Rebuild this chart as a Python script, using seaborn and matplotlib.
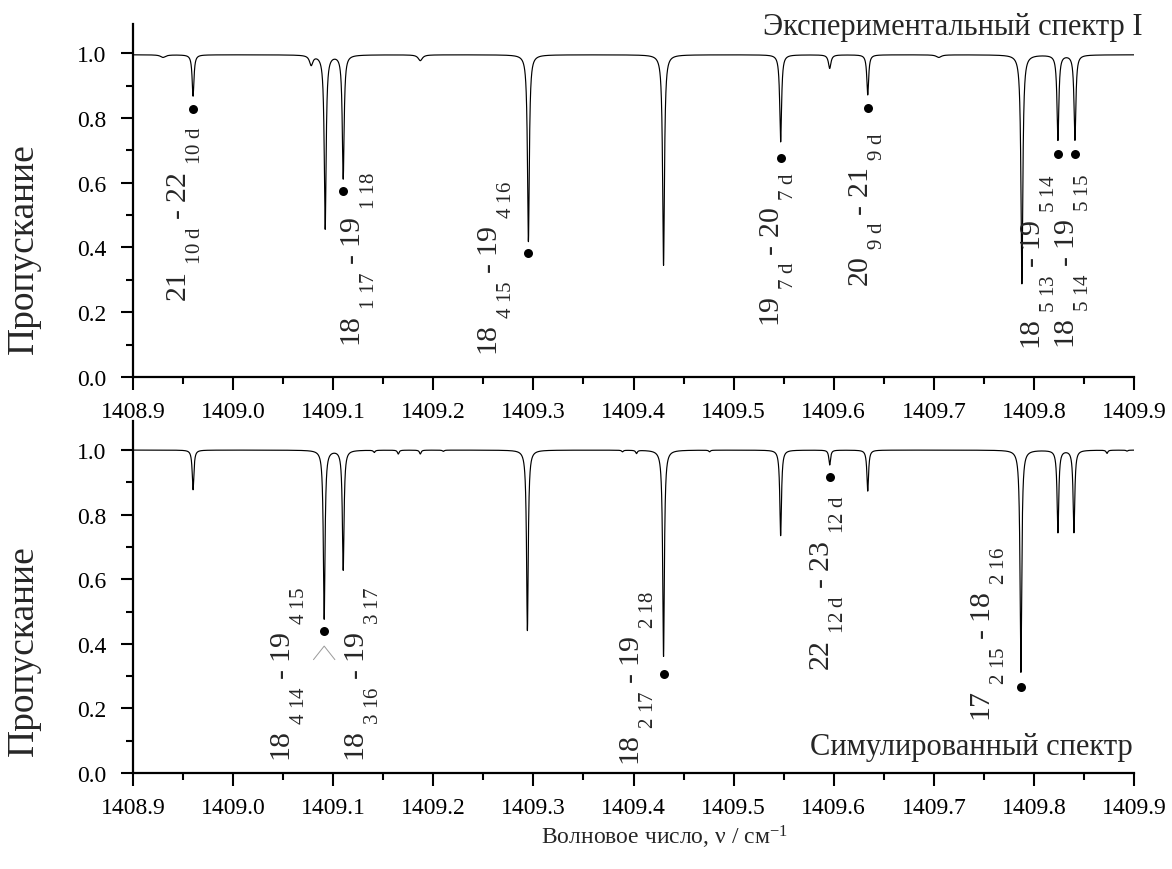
import numpy as np
import pandas as pd
import matplotlib
matplotlib.use("Agg")
import matplotlib.pyplot as plt
import seaborn as sns

try:  # deeper subscripts, as in the original figure
    import matplotlib._mathtext as _mt
    _mt.FontConstantsBase.sub1 = 1.0
except Exception:
    pass

# ---------------- data ----------------
# experimental spectrum: line centres (cm-1), depths, half widths
exp_centers = [1408.930, 1408.960, 1409.078, 1409.092, 1409.110, 1409.187,
               1409.295, 1409.430, 1409.547, 1409.596, 1409.634, 1409.705,
               1409.788, 1409.824, 1409.841]
exp_depths = [0.008, 0.128, 0.030, 0.537, 0.382, 0.018,
              0.577, 0.650, 0.269, 0.042, 0.124, 0.008,
              0.707, 0.263, 0.263]
exp_widths = [0.0030, 0.0011, 0.0020, 0.0011, 0.0011, 0.0025,
              0.0011, 0.0011, 0.0011, 0.0015, 0.0011, 0.0030,
              0.0011, 0.0011, 0.0011]
exp_baseline = 0.995

# simulated spectrum
sim_centers = [1408.960, 1409.091, 1409.110, 1409.141, 1409.165, 1409.187,
               1409.210, 1409.294, 1409.389, 1409.403, 1409.430, 1409.476,
               1409.547, 1409.596, 1409.634, 1409.787, 1409.824, 1409.840,
               1409.873, 1409.893]
sim_depths = [0.123, 0.523, 0.371, 0.007, 0.012, 0.012,
              0.004, 0.559, 0.005, 0.010, 0.639, 0.005,
              0.265, 0.046, 0.127, 0.688, 0.255, 0.255,
              0.010, 0.003]
sim_widths = [0.0010] * len(sim_centers)
sim_baseline = 1.0

# assignment labels (top panel)
top_labels = [r"21 $_{\mathrm{10\ d}}$ - 22 $_{\mathrm{10\ d}}$",
              r"18 $_{\mathrm{1\ 17}}$ - 19 $_{\mathrm{1\ 18}}$",
              r"18 $_{\mathrm{4\ 15}}$ - 19 $_{\mathrm{4\ 16}}$",
              r"19 $_{\mathrm{7\ d}}$ - 20 $_{\mathrm{7\ d}}$",
              r"20 $_{\mathrm{9\ d}}$ - 21 $_{\mathrm{9\ d}}$",
              r"18 $_{\mathrm{5\ 13}}$ - 19 $_{\mathrm{5\ 14}}$",
              r"18 $_{\mathrm{5\ 14}}$ - 19 $_{\mathrm{5\ 15}}$"]
top_dot_x = [1408.960, 1409.110, 1409.295, 1409.547, 1409.634, 1409.824, 1409.841]
top_dot_y = [0.827, 0.574, 0.384, 0.677, 0.830, 0.690, 0.690]
top_text_top = [0.777, 0.635, 0.607, 0.635, 0.759, 0.628, 0.628]
top_text_dx = [-10, 14, -34, -4, -2, -20, -3]   # pixels

# assignment labels (bottom panel)
bot_labels = [r"18 $_{\mathrm{4\ 14}}$ - 19 $_{\mathrm{4\ 15}}$",
              r"18 $_{\mathrm{3\ 16}}$ - 19 $_{\mathrm{3\ 17}}$",
              r"18 $_{\mathrm{2\ 17}}$ - 19 $_{\mathrm{2\ 18}}$",
              r"22 $_{\mathrm{12\ d}}$ - 23 $_{\mathrm{12\ d}}$",
              r"17 $_{\mathrm{2\ 15}}$ - 18 $_{\mathrm{2\ 16}}$"]
bot_anchor_x = [1409.091, 1409.091, 1409.430, 1409.596, 1409.787]
bot_text_top = [0.580, 0.580, 0.565, 0.861, 0.703]
bot_text_dx = [-37, 37, -27, -3, -33]
bot_dot_x = [1409.091, 1409.430, 1409.596, 1409.787]
bot_dot_y = [0.440, 0.307, 0.917, 0.267]

# chevron under the blended line
chev_x = [1409.0803, 1409.091, 1409.1017]
chev_y = [0.351, 0.393, 0.351]

x_ticks = [1408.9, 1409.0, 1409.1, 1409.2, 1409.3, 1409.4, 1409.5, 1409.6, 1409.7, 1409.8, 1409.9]
y_ticks = [0.0, 0.2, 0.4, 0.6, 0.8, 1.0]

# ---------------- build spectra (Lorentzian line shapes) ----------------
nu = np.linspace(1408.9, 1409.9, 20001)

def spectrum(base, centers, depths, widths):
    t = np.full_like(nu, base)
    for c, d, w in zip(centers, depths, widths):
        t -= d / (1.0 + ((nu - c) / w) ** 2)
    return t

df_exp = pd.DataFrame({"nu": nu, "T": spectrum(exp_baseline, exp_centers, exp_depths, exp_widths)})
df_sim = pd.DataFrame({"nu": nu, "T": spectrum(sim_baseline, sim_centers, sim_depths, sim_widths)})

# ---------------- styling ----------------
sns.set_theme(style="ticks")
plt.rcParams["font.family"] = ["Liberation Serif", "DejaVu Serif"]
plt.rcParams["mathtext.fontset"] = "custom"
plt.rcParams["mathtext.rm"] = "Liberation Serif"
plt.rcParams["mathtext.it"] = "Liberation Serif:italic"
plt.rcParams["mathtext.bf"] = "Liberation Serif:bold"

W, H = 1172, 870
fig = plt.figure(figsize=(W / 100, H / 100), dpi=100)
ax_top = fig.add_axes([133 / W, 1 - 378 / H, 1001 / W, 353 / H])
ax_bot = fig.add_axes([133 / W, 1 - 774 / H, 1001 / W, 352 / H])

TICK_FS = 17
LAB_FS = 21.5

for ax in (ax_top, ax_bot):
    ax.set_xlim(1408.9, 1409.9)
    ax.set_ylim(0.0, 1.09)
    ax.set_xticks(x_ticks)
    ax.set_xticklabels([f"{v:.1f}" for v in x_ticks])
    ax.set_yticks(y_ticks)
    ax.set_yticklabels([f"{v:.1f}" for v in y_ticks])
    ax.xaxis.set_minor_locator(matplotlib.ticker.MultipleLocator(0.05))
    ax.yaxis.set_minor_locator(matplotlib.ticker.MultipleLocator(0.1))
    ax.tick_params(which="major", direction="out", length=9, width=1.5,
                   labelsize=TICK_FS, color="black", labelcolor="black")
    ax.tick_params(axis="x", which="major", pad=8)
    ax.tick_params(axis="y", which="major", pad=10)
    ax.tick_params(which="minor", direction="out", length=5, width=1.5, color="black")
    for s in ("top", "right"):
        ax.spines[s].set_visible(False)
    for s in ("left", "bottom"):
        ax.spines[s].set_linewidth(1.6)
        ax.spines[s].set_color("black")
    ax.set_facecolor("white")

sns.lineplot(data=df_exp, x="nu", y="T", ax=ax_top, color="black", linewidth=0.85,
             estimator=None, sort=False)
sns.lineplot(data=df_sim, x="nu", y="T", ax=ax_bot, color="black", linewidth=0.85,
             estimator=None, sort=False)
for ax in (ax_top, ax_bot):
    ax.set_xlabel("")
    ax.set_ylabel("")

sns.scatterplot(x=top_dot_x, y=top_dot_y, ax=ax_top, color="black", s=42,
                edgecolor="black", linewidth=0, zorder=5)
sns.scatterplot(x=bot_dot_x, y=bot_dot_y, ax=ax_bot, color="black", s=42,
                edgecolor="black", linewidth=0, zorder=5)
ax_bot.plot(chev_x, chev_y, color="#9a9a9a", linewidth=0.7)

px2pt = 72 / 100
for lab, x, yt, dx in zip(top_labels, top_dot_x, top_text_top, top_text_dx):
    ax_top.annotate(lab, xy=(x, yt), xytext=(dx * px2pt, 0), textcoords="offset points",
                    rotation=90, ha="center", va="top", fontsize=LAB_FS)
for lab, x, yt, dx in zip(bot_labels, bot_anchor_x, bot_text_top, bot_text_dx):
    ax_bot.annotate(lab, xy=(x, yt), xytext=(dx * px2pt, 0), textcoords="offset points",
                    rotation=90, ha="center", va="top", fontsize=LAB_FS)

# panel captions and axis titles
fig.text(1143 / W, 1 - 35 / H, "Экспериментальный спектр I", ha="right", va="baseline", fontsize=22)
fig.text(1133 / W, 1 - 755 / H, "Симулированный спектр", ha="right", va="baseline", fontsize=22)
fig.text(24 / W, 1 - 249 / H, "Пропускание", rotation=90, ha="center", va="center", fontsize=27)
fig.text(24 / W, 1 - 651 / H, "Пропускание", rotation=90, ha="center", va="center", fontsize=27)
fig.text(664 / W, 1 - 845 / H, r"Волновое число, ν / см$^{\mathrm{-1}}$", ha="center",
         va="baseline", fontsize=17)

fig.savefig("out.png", dpi=100, facecolor="white")
